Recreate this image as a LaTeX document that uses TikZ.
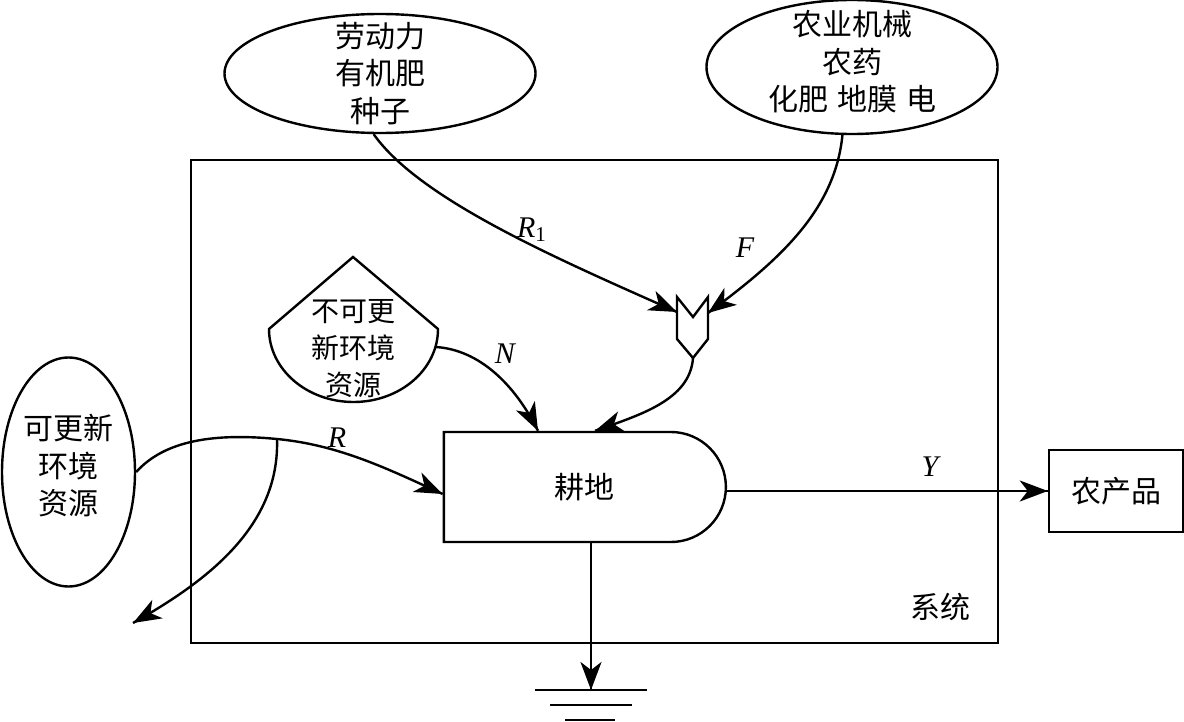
\documentclass[tikz,border=0pt]{standalone}
\usepackage{fontspec}
\setmainfont{Liberation Serif}
\newfontfamily\cjk{Noto Sans CJK SC}
\usetikzlibrary{arrows.meta}
\usetikzlibrary{decorations.markings}
\usetikzlibrary{shapes.geometric}
\usetikzlibrary{shapes.misc}
\tikzset{->/.style = {decoration={markings,
                                  mark=at position 0.9999 with {\arrow{Stealth[length=14pt, width=10.5pt, inset=4pt]}}},
                      postaction={decorate}}}
\tikzset{zh/.style = {font=\cjk\fontsize{15}{18.75}\selectfont, align=center}}
\tikzset{zhsmall/.style = {font=\cjk\fontsize{14}{18.5}\selectfont, align=center}}
\tikzset{var/.style = {font=\fontsize{15}{18}\selectfont\itshape}}
\tikzset{source/.style = {ellipse, draw, inner sep=0pt}}

\begin{document}
\begin{tikzpicture}[x=0.5pt, y=-0.5pt, line width=1.2pt]
      \useasboundingbox (0, 0) rectangle (1184, 722);

      \draw (191, 160) rectangle (998, 643);
      \node [zh] (xitong) at (940, 607) {系统};

      \node [source, minimum width=155.5pt, minimum height=59.5pt,
             label={[zh]center:劳动力\\有机肥\\种子}] (laodong) at (380, 73.5) {};
      \node [source, minimum width=145.5pt, minimum height=67pt,
             label={[zh, yshift=2.5pt]center:农业机械\\农药\\化肥\hspace{0.3em}地膜\hspace{0.3em}电}] (nongji) at (852, 67) {};
      \node [source, minimum width=66.5pt, minimum height=114.5pt,
             label={[zh, yshift=3pt]center:可更新\\环境\\资源}] (kegeng) at (68.5, 472) {};

      \draw (353, 257) -- (269, 329) arc[start angle=180, end angle=360, x radius=42.25pt, y radius=36.5pt] -- cycle;
      \node [zhsmall] (bukegeng) at (353, 349) {不可更\\新环境\\资源};
      \coordinate (bukegengE) at (436, 347);

      \draw (677, 297) -- (693, 317) -- (708, 297) -- (708, 339) -- (693, 358) -- (677, 339) -- cycle;
      \coordinate (huiheW) at (677, 312);
      \coordinate (huiheE) at (708, 313);
      \coordinate (huiheS) at (693, 358);

      \node [draw, zh, rounded rectangle, rounded rectangle west arc=none,
             minimum width=141pt, minimum height=55pt, inner sep=0pt] (gengdi) at (584, 487) {耕地};
      \node [draw, zh, minimum width=67pt, minimum height=41pt, inner sep=0pt] (chanpin) at (1116, 491) {农产品};

      \coordinate (fenliu) at (277, 439);
      \coordinate (liushi) at (133, 623);
      \coordinate (jiedi) at (591, 690);

      \draw [->] (laodong.-96) .. controls (420, 200) and (560, 260) .. (huiheW);
      \draw [->] (nongji.-98) .. controls (835, 210) and (780, 260) .. (huiheE);
      \draw [->] (huiheS) .. controls (690, 400) and (640, 415) .. ([xshift=5.5pt]gengdi.north);
      \draw [->] (bukegengE) .. controls (480, 350) and (515, 385) .. ([xshift=-23pt]gengdi.north);
      \draw [->] (kegeng.east) .. controls (165, 440) and (215, 433) .. (fenliu) .. controls (340, 445) and (390, 470) .. ([yshift=-3.5pt]gengdi.west);
      \draw [->] (fenliu) .. controls (280, 530) and (200, 585) .. (liushi);
      \draw [->] (gengdi.east |- chanpin.west) -- (chanpin.west);
      \draw [->] ([xshift=3.5pt]gengdi.south) -- (jiedi);

      \draw (535, 690) -- (647, 690);
      \draw (550, 705) -- (632, 705);
      \draw (565, 720) -- (615, 720);

      \node [var] (labRa) at (532, 230) {R\textsubscript{\upshape 1}};
      \node [var] (labF) at (745, 248) {F};
      \node [var] (labN) at (505, 354) {N};
      \node [var] (labR) at (337, 438) {R};
      \node [var] (labY) at (930, 467) {Y};
    \end{tikzpicture}
\end{document}
